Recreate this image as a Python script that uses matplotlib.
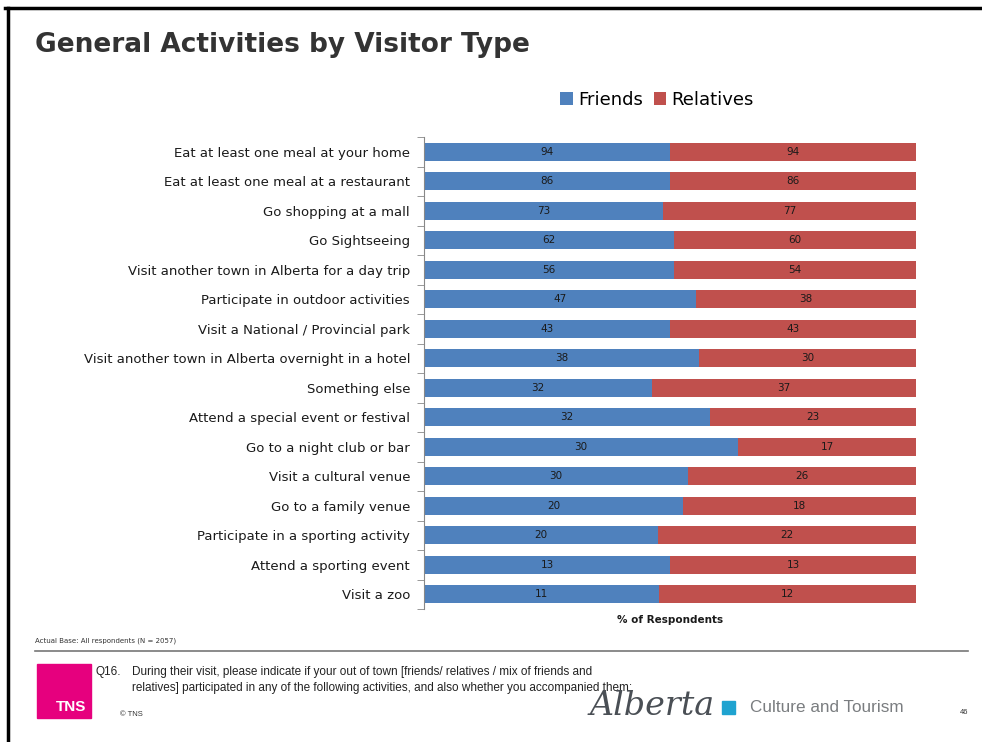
import numpy as np
import matplotlib
matplotlib.use("Agg")
import matplotlib.pyplot as plt
from matplotlib.patches import Rectangle

# survey activities, top to bottom
activities = [
    "Eat at least one meal at your home",
    "Eat at least one meal at a restaurant",
    "Go shopping at a mall",
    "Go Sightseeing",
    "Visit another town in Alberta for a day trip",
    "Participate in outdoor activities",
    "Visit a National / Provincial park",
    "Visit another town in Alberta overnight in a hotel",
    "Something else",
    "Attend a special event or festival",
    "Go to a night club or bar",
    "Visit a cultural venue",
    "Go to a family venue",
    "Participate in a sporting activity",
    "Attend a sporting event",
    "Visit a zoo",
]
friends = [94, 86, 73, 62, 56, 47, 43, 38, 32, 32, 30, 30, 20, 20, 13, 11]
relatives = [94, 86, 77, 60, 54, 38, 43, 30, 37, 23, 17, 26, 18, 22, 13, 12]

BLUE = "#4F81BD"
RED = "#C0504D"

fr = np.array(friends, dtype=float)
rl = np.array(relatives, dtype=float)
tot = fr + rl
fr_share = fr / tot * 100
rl_share = rl / tot * 100

W, H = 982, 742
fig = plt.figure(figsize=(W / 100, H / 100), dpi=100)
fig.patch.set_facecolor("white")

# chart area in pixel terms
ax = fig.add_axes([424 / W, 1 - 609 / H, 492 / W, 472 / H])
y = np.arange(len(activities))
ax.barh(y, fr_share, height=0.62, color=BLUE, label="Friends")
ax.barh(y, rl_share, left=fr_share, height=0.62, color=RED, label="Relatives")

for i in range(len(activities)):
    ax.text(fr_share[i] / 2, i, str(friends[i]), ha="center", va="center",
            fontsize=7.5, color="#1a1a1a")
    ax.text(fr_share[i] + rl_share[i] / 2, i, str(relatives[i]), ha="center",
            va="center", fontsize=7.5, color="#1a1a1a")

ax.set_xlim(0, 100)
ax.set_ylim(len(activities) - 0.5, -0.5)
ax.set_yticks(y)
ax.set_yticklabels(activities, fontsize=9.5, color="#1a1a1a")
ax.set_yticks(np.arange(len(activities) + 1) - 0.5, minor=True)
ax.tick_params(axis="y", which="major", length=0, pad=10)
ax.tick_params(axis="y", which="minor", length=5, color="#888888")
ax.set_xticks([])
for s in ["top", "right", "bottom"]:
    ax.spines[s].set_visible(False)
ax.spines["left"].set_color("#888888")

ax.legend(loc="center", bbox_to_anchor=(657 / W, 1 - 100 / H),
          bbox_transform=fig.transFigure, ncol=2, frameon=False,
          fontsize=13, handlelength=0.7, handleheight=0.7, handletextpad=0.3,
          columnspacing=0.6, borderaxespad=0, borderpad=0)

fig.text(670 / W, 1 - 620 / H, "% of Respondents", ha="center", va="center",
         fontsize=7.5, fontweight="bold", color="#1a1a1a")

# title
fig.text(35 / W, 1 - 45 / H, "General Activities by Visitor Type", ha="left",
         va="center", fontsize=19, fontweight="bold", color="#333333")

# slide frame
fig.add_artist(plt.Line2D([5 / W, 1], [1 - 8 / H, 1 - 8 / H], color="black", lw=2.5))
fig.add_artist(plt.Line2D([8 / W, 8 / W], [0, 1 - 8 / H], color="black", lw=2.5))

# footer
fig.text(35 / W, 1 - 641 / H, "Actual Base: All respondents (N = 2057)", ha="left",
         va="center", fontsize=5, color="#333333")
fig.add_artist(plt.Line2D([35 / W, 968 / W], [1 - 651 / H, 1 - 651 / H],
                          color="#777777", lw=1.2))
fig.add_artist(Rectangle((37 / W, 1 - 718 / H), 54 / W, 54 / H,
                         transform=fig.transFigure, color="#E6007E"))
fig.text(86 / W, 1 - 707 / H, "TNS", ha="right", va="center", fontsize=11,
         fontweight="bold", color="white", family="Liberation Sans")
fig.text(95 / W, 1 - 672 / H, "Q16.", ha="left", va="center", fontsize=8.5,
         color="#222222", family="Liberation Sans")
fig.text(132 / W, 1 - 672 / H,
         "During their visit, please indicate if your out of town [friends/ relatives / mix of friends and",
         ha="left", va="center", fontsize=8.5, color="#222222", family="Liberation Sans")
fig.text(132 / W, 1 - 688 / H,
         "relatives] participated in any of the following activities, and also whether you accompanied them:",
         ha="left", va="center", fontsize=8.5, color="#222222", family="Liberation Sans")
fig.text(120 / W, 1 - 715 / H, "\u00a9 TNS", ha="left", va="center", fontsize=5.5,
         color="#333333", family="Liberation Sans")
fig.text(590 / W, 1 - 706 / H, "Alberta", ha="left", va="center", fontsize=24,
         style="italic", family="DejaVu Serif", color="#4a4f55")
fig.add_artist(Rectangle((722 / W, 1 - 714 / H), 13 / W, 13 / H,
                         transform=fig.transFigure, color="#1FA3D0"))
fig.text(750 / W, 1 - 707 / H, "Culture and Tourism", ha="left", va="center",
         fontsize=12.3, color="#7a7d80", family="Liberation Sans")
fig.text(960 / W, 1 - 713 / H, "46", ha="left", va="center", fontsize=5.5,
         color="#333333", family="Liberation Sans")

fig.savefig("out.png", dpi=100)
